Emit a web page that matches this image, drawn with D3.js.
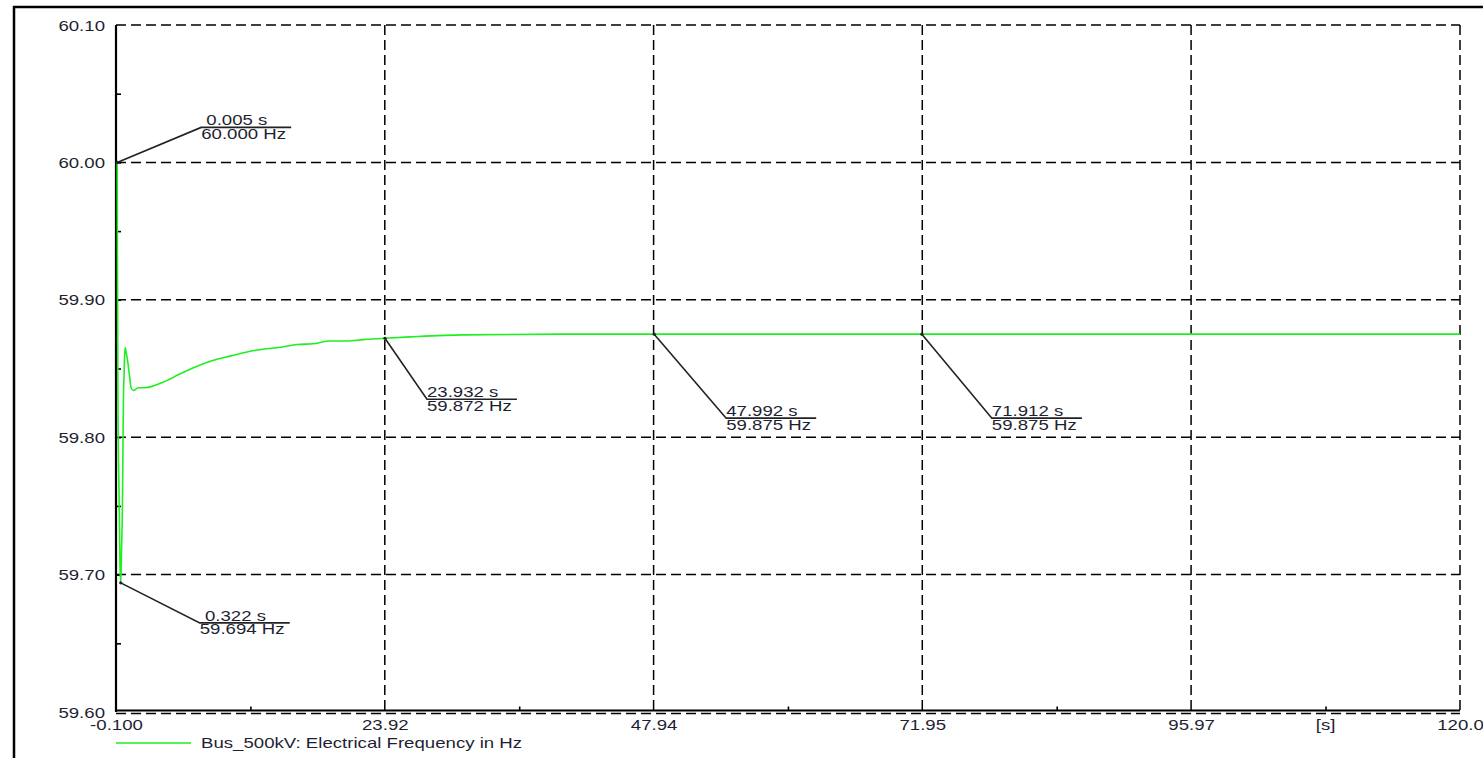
<!DOCTYPE html>
<html>
<head>
<title>Bus_500kV Electrical Frequency</title>
<style>
body { margin: 0; background: #fff; }
svg { display: block; }
text { font-family: "Liberation Sans", Arial, sans-serif; font-size: 14px; fill: #1f1f33; white-space: pre; }
</style>
<script src="https://d3js.org/d3.v7.min.js"></script>
</head>
<body>
<svg id="chart" width="1483" height="758"></svg>
<script>
// simulated frequency at Bus_500kV (s, Hz)
const timeS = [-0.1, 0.0, 0.005, 0.02, 0.08, 0.17, 0.26, 0.322, 0.40, 0.47, 0.52, 0.56, 0.62, 0.70, 0.74,
    0.80, 0.95, 1.10, 1.25, 1.45, 1.9, 2.5, 4.1, 5.6, 7.1, 8.6, 10.1, 11.6, 13.0, 14.6, 16.1, 17.5,
    19.0, 20.5, 22.0, 23.9, 26.2, 30.9, 40.0, 60.0, 90.0, 120.0];
const freqHz = [60.000, 60.000, 60.000, 59.950, 59.815, 59.760, 59.705, 59.694, 59.720, 59.747, 59.790, 59.826,
    59.845, 59.865, 59.865, 59.862, 59.855, 59.845, 59.836, 59.834, 59.836, 59.836, 59.840, 59.846, 59.8515,
    59.856, 59.859, 59.862, 59.864, 59.8655, 59.8675, 59.868, 59.870, 59.870, 59.871, 59.872, 59.873,
    59.8745, 59.875, 59.875, 59.875, 59.875];

const xTickVals = [-0.1, 23.92, 47.94, 71.95, 95.97, 120.0];
const xTickLabels = ["-0.100", "23.92", "47.94", "71.95", "95.97", "120.0"];
const yTickVals = [59.6, 59.7, 59.8, 59.9, 60.0, 60.1];
const yTickLabels = ["59.60", "59.70", "59.80", "59.90", "60.00", "60.10"];

// cursor markers
const markT = [0.005, 0.322, 23.932, 47.992, 71.912];
const markF = [60.000, 59.694, 59.872, 59.875, 59.875];
const markTLabels = [" 0.005 s", " 0.322 s", "23.932 s", "47.992 s", "71.912 s"];
const markFLabels = ["60.000 Hz", "59.694 Hz", "59.872 Hz", "59.875 Hz", "59.875 Hz"];

const seriesName = "Bus_500kV: Electrical Frequency in Hz";
const unitLabel = "[s]";

const svg = d3.select("#chart");
const SX = 1.33; // text is drawn wide in the original
const LEFT = 116, RIGHT = 1460, TOP = 25, BOTTOM = 712;

const x = d3.scaleLinear().domain([xTickVals[0], xTickVals[xTickVals.length - 1]]).range([LEFT, RIGHT]);
const y = d3.scaleLinear().domain([yTickVals[0], yTickVals[yTickVals.length - 1]]).range([BOTTOM, TOP]);

function wide(sel, tx, ty) {
    sel.attr("x", 0).attr("y", 0).attr("dy", null)
       .attr("transform", `translate(${tx},${ty}) scale(${SX},1)`);
}

// outer frame
svg.append("path").attr("d", "M14,758 V7 H1483")
   .attr("fill", "none").attr("stroke", "#000").attr("stroke-width", 2.5);

// grid
const grid = svg.append("g").attr("stroke", "#000").attr("stroke-width", 1.5)
    .attr("stroke-dasharray", "10,5").attr("fill", "none");
grid.selectAll(".gx").data(xTickVals.slice(1)).join("line")
    .attr("x1", d => x(d)).attr("x2", d => x(d))
    .attr("y1", TOP).attr("y2", BOTTOM);
grid.selectAll(".gy").data(yTickVals).join("line")
    .attr("x1", LEFT).attr("x2", RIGHT)
    .attr("y1", d => y(d) + (d === yTickVals[0] ? 1.5 : 0))
    .attr("y2", d => y(d) + (d === yTickVals[0] ? 1.5 : 0));

// y axis
const yAxis = svg.append("g").attr("transform", `translate(${LEFT},0)`)
    .call(d3.axisLeft(y).tickValues(yTickVals).tickSize(0).tickPadding(11)
        .tickFormat((d, i) => yTickLabels[i]));
yAxis.select(".domain").attr("stroke-width", 2.2).attr("d", `M0,${TOP}V${BOTTOM}`);
yAxis.selectAll("text").attr("font-size", 14).attr("font-family", null).attr("fill", "#1f1f33")
    .each(function(d) { wide(d3.select(this), -11, 5); });

const yMinor = d3.range(yTickVals.length - 1).map(i => (yTickVals[i] + yTickVals[i + 1]) / 2);
svg.append("g").attr("transform", `translate(${LEFT},0)`)
    .call(d3.axisRight(y).tickValues(yMinor.concat(yTickVals.slice(1, -1))).tickSize(5).tickFormat(""))
    .call(g => g.select(".domain").remove())
    .selectAll("line").attr("stroke-width", 1.6);

// x axis
const xAxis = svg.append("g").attr("transform", `translate(0,${BOTTOM - 1.5})`)
    .call(d3.axisBottom(x).tickValues(xTickVals).tickSize(0).tickPadding(12)
        .tickFormat((d, i) => xTickLabels[i]));
xAxis.select(".domain").attr("stroke-width", 2.2).attr("d", `M${LEFT},0H${RIGHT}`);
xAxis.selectAll("text").attr("font-size", 14).attr("font-family", null).attr("fill", "#1f1f33")
    .each(function(d) { wide(d3.select(this), 0, 19); });

const xMinor = d3.range(xTickVals.length - 1).map(i => (xTickVals[i] + xTickVals[i + 1]) / 2);
svg.append("g").attr("transform", `translate(0,${BOTTOM - 1.5})`)
    .call(d3.axisTop(x).tickValues(xMinor).tickSize(4).tickFormat(""))
    .call(g => g.select(".domain").remove())
    .selectAll("line").attr("stroke-width", 1.6);

svg.append("text").text(unitLabel).attr("text-anchor", "middle")
    .call(wide, x(xMinor[xMinor.length - 1]), BOTTOM + 17.5);

// series
const series = timeS.map((t, i) => [t, freqHz[i]]);
svg.append("path").datum(series)
    .attr("fill", "none").attr("stroke", "#1eef1e").attr("stroke-width", 1.6)
    .attr("d", d3.line().curve(d3.curveMonotoneX).x(d => x(d[0])).y(d => y(d[1])));

// markers
const markOffset = [[84, -35], [79, 40], [42, 61], [72, 84], [70, 84]];
const marks = svg.append("g");
markT.forEach((t, i) => {
    const px = x(t), py = y(markF[i]);
    const lx = px + markOffset[i][0], ly = py + markOffset[i][1];
    marks.append("path").attr("d", `M${px},${py}L${lx},${ly}H${lx + 90}`)
        .attr("fill", "none").attr("stroke", "#222").attr("stroke-width", 1.6);
    marks.append("circle").attr("cx", px).attr("cy", py).attr("r", 1.6).attr("fill", "#222");
    marks.append("text").text(markTLabels[i]).call(wide, lx, ly - 2);
    marks.append("text").text(markFLabels[i]).call(wide, lx, ly + 11.5);
});

// legend
svg.append("line").attr("x1", LEFT).attr("x2", 191).attr("y1", 743).attr("y2", 743)
    .attr("stroke", "#1eef1e").attr("stroke-width", 1.3);
svg.append("text").text(seriesName).call(wide, 201, 748);
</script>
</body>
</html>
